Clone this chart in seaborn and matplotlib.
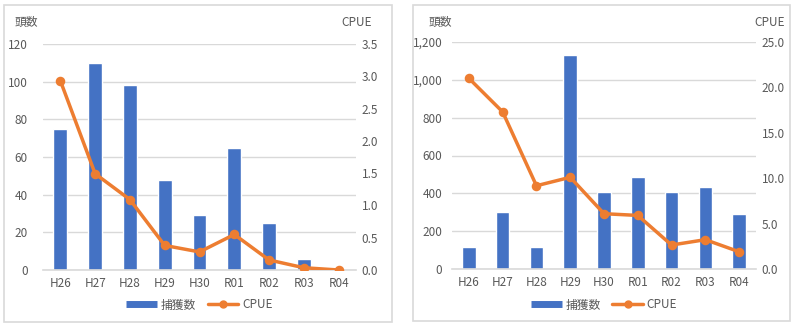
import matplotlib
matplotlib.use("Agg")
import matplotlib.pyplot as plt
import seaborn as sns
import numpy as np
from matplotlib.patches import Rectangle
from matplotlib.lines import Line2D
from matplotlib.ticker import FuncFormatter, MultipleLocator

years = ["H26", "H27", "H28", "H29", "H30", "R01", "R02", "R03", "R04"]
catch_left = [75, 110, 98, 48, 29, 65, 25, 6, 0]
cpue_left = [2.93, 1.49, 1.09, 0.38, 0.28, 0.55, 0.155, 0.035, 0.0]
catch_right = [115, 300, 115, 1130, 407, 487, 407, 435, 289]
cpue_right = [21.0, 17.3, 9.17, 10.1, 6.09, 5.9, 2.64, 3.23, 1.9]

BAR = "#4472C4"
LINE = "#ED7D31"
TXT = "#595959"
GRID = "#D9D9D9"

sns.set_theme(style="white")
plt.rcParams['font.family'] = ['Noto Sans CJK JP', 'DejaVu Sans']

W, H = 800, 329
fig = plt.figure(figsize=(W/100, H/100), dpi=100)

def fx(px): return px / W
def fy(py): return 1 - py / H

FS = 8.5

# panel frames
for (x0, y0, x1, y1) in [(4, 5, 392, 322), (413, 5, 790, 321)]:
    fig.patches.append(Rectangle((fx(x0), fy(y1)), fx(x1 - x0), (y1 - y0) / H,
                                 transform=fig.transFigure, fill=False,
                                 edgecolor=GRID, linewidth=1.2))

def panel(l, r, top, bot, counts, cpue, ymax, ystep, y2max, y2step, lpad, comma,
          lab_l, lab_r):
    ax = fig.add_axes([fx(l), fy(bot), fx(r - l), (bot - top) / H])
    sns.barplot(x=years, y=counts, ax=ax, color=BAR, width=0.4, saturation=1)
    ax.set_ylim(0, ymax)
    ax.set_xlim(-0.5, len(years) - 0.5)
    ax.yaxis.set_major_locator(MultipleLocator(ystep))
    if comma:
        ax.yaxis.set_major_formatter(FuncFormatter(lambda v, p: f"{int(v):,}"))
    ax.grid(axis="y", color=GRID, linewidth=1)
    ax.set_axisbelow(True)
    for s in ["top", "right", "left"]:
        ax.spines[s].set_visible(False)
    ax.spines["bottom"].set_color(GRID)
    ax.spines["bottom"].set_linewidth(1.2)
    ax.tick_params(axis="y", length=0, pad=lpad, labelsize=FS, labelcolor=TXT)
    ax.tick_params(axis="x", length=0, pad=5, labelsize=FS, labelcolor=TXT)
    ax.set_xlabel("")
    ax.set_ylabel("")

    ax2 = ax.twinx()
    sns.pointplot(x=years, y=cpue, ax=ax2, color=LINE, markers="o",
                  markersize=5, linewidth=2.5)
    ax2.set_ylim(0, y2max)
    ax2.set_xlim(-0.5, len(years) - 0.5)
    ax2.yaxis.set_major_locator(MultipleLocator(y2step))
    ax2.yaxis.set_major_formatter(FuncFormatter(lambda v, p: f"{v:.1f}"))
    for s in ["top", "right", "left", "bottom"]:
        ax2.spines[s].set_visible(False)
    ax2.tick_params(axis="y", length=0, pad=4, labelsize=FS, labelcolor=TXT)
    ax2.set_ylabel("")

    fig.text(fx(lab_l), fy(22), "頭数", fontsize=FS, color=TXT, ha="left", va="center")
    fig.text(fx(lab_r), fy(22), "CPUE", fontsize=FS, color=TXT, ha="right", va="center")

    handles = [Line2D([], [], color=BAR, linewidth=5, solid_capstyle="butt"),
               Line2D([], [], color=LINE, marker="o", markersize=5, linewidth=2.5)]
    ax.legend(handles, ["捕獲数", "CPUE"], loc="center",
              bbox_to_anchor=(0.5, -(305 - bot) / (bot - top)),
              ncol=2, frameon=False, fontsize=FS, labelcolor=TXT,
              handlelength=2.6, handletextpad=0.3, columnspacing=1.0)

panel(43, 356, 44, 270, catch_left, cpue_left, 120, 20, 3.5, 0.5, 11, False, 15, 372)
panel(452, 756, 42, 269, catch_right, cpue_right, 1200, 200, 25, 5, 7, True, 429, 785)

fig.savefig("out.png", dpi=100)
